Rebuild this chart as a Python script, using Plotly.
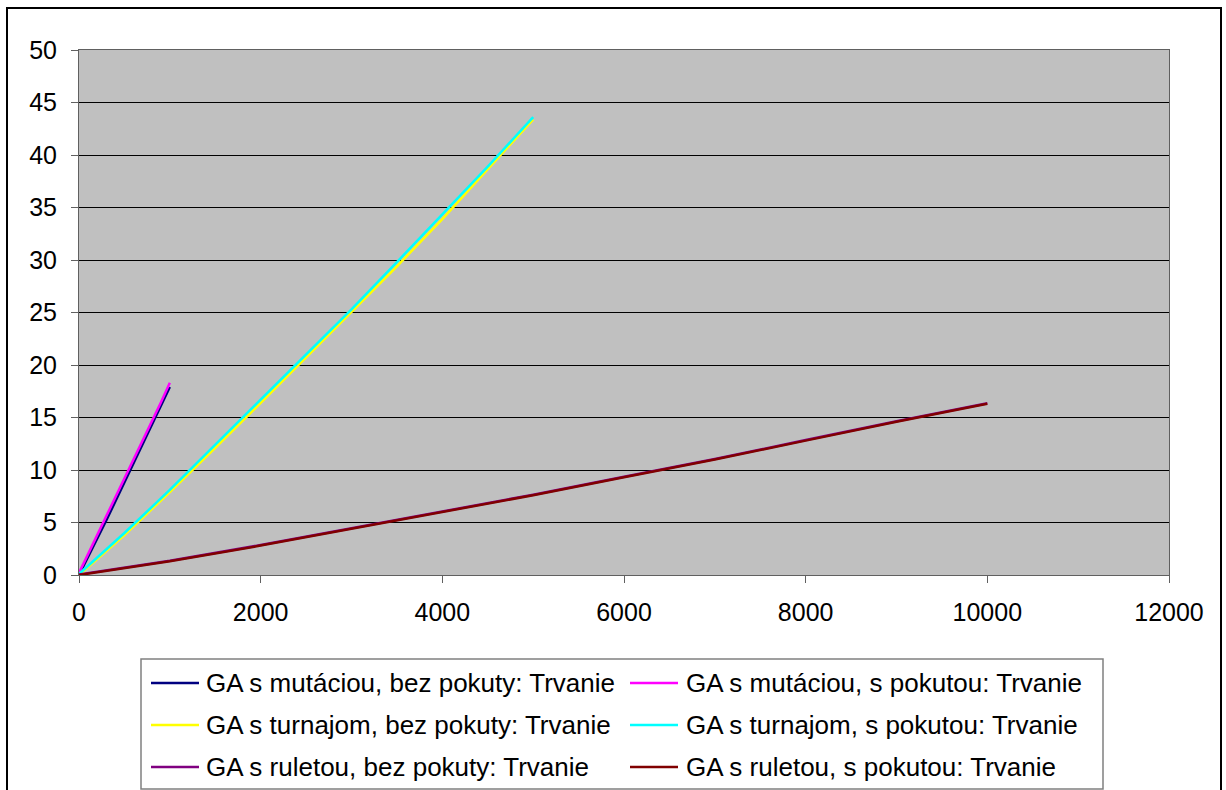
import plotly.graph_objects as go

# ---------------- data ----------------
mut_x = [0, 100, 200, 300, 400, 500, 600, 700, 800, 900, 1000]
mut_bez = [0.0, 1.7, 3.4, 5.2, 7.0, 8.8, 10.6, 12.4, 14.2, 16.0, 17.9]
mut_s = [0.2, 2.0, 3.7, 5.5, 7.3, 9.1, 10.9, 12.7, 14.5, 16.4, 18.3]

tur_x = [0, 500, 1000, 1500, 2000, 2500, 3000, 3500, 4000, 4500, 5000]
tur_bez = [0.0, 3.8, 7.9, 12.1, 16.4, 20.7, 25.0, 29.4, 33.9, 38.6, 43.4]
tur_s = [0.1, 4.0, 8.1, 12.4, 16.7, 21.0, 25.3, 29.8, 34.3, 38.9, 43.6]

rul_x = [0, 1000, 2000, 3000, 4000, 5000, 6000, 7000, 8000, 9000, 10000]
rul_bez = [0.05, 1.35, 2.85, 4.45, 6.05, 7.65, 9.35, 11.05, 12.85, 14.65, 16.35]
rul_s = [0.0, 1.3, 2.8, 4.4, 6.0, 7.6, 9.3, 11.0, 12.8, 14.6, 16.3]

series_names = [
    "GA s mutáciou, bez pokuty: Trvanie",
    "GA s mutáciou, s pokutou: Trvanie",
    "GA s turnajom, bez pokuty: Trvanie",
    "GA s turnajom, s pokutou: Trvanie",
    "GA s ruletou, bez pokuty: Trvanie",
    "GA s ruletou, s pokutou: Trvanie",
]
series_colors = ["#000080", "#FF00FF", "#FFFF00", "#00FFFF", "#800080", "#800000"]

x_ticks = [0, 2000, 4000, 6000, 8000, 10000, 12000]
y_ticks = [0, 5, 10, 15, 20, 25, 30, 35, 40, 45, 50]

series_x = [mut_x, mut_x, tur_x, tur_x, rul_x, rul_x]
series_y = [mut_bez, mut_s, tur_bez, tur_s, rul_bez, rul_s]

# ---------------- layout geometry (pixels) ----------------
W, H = 1226, 790
PL, PR, PT, PB = 79, 1169, 50, 575
FONT = "Liberation Sans, Arial, sans-serif"
FS = 25
LEG_FS = 26


def px_to_paper_x(px):
    return (px - PL) / (PR - PL)


def px_to_paper_y(py):
    return (PB - py) / (PB - PT)


fig = go.Figure()
for xs, ys, name, color in zip(series_x, series_y, series_names, series_colors):
    fig.add_trace(go.Scatter(
        x=xs, y=ys, mode="lines", name=name,
        line=dict(color=color, width=2.5),
        showlegend=False,
    ))

shapes = []
annotations = []

# outer chart frame
shapes.append(dict(
    type="rect", xref="paper", yref="paper",
    x0=px_to_paper_x(7), x1=px_to_paper_x(1221),
    y0=px_to_paper_y(830), y1=px_to_paper_y(8),
    line=dict(color="#000000", width=2), fillcolor="rgba(0,0,0,0)",
    layer="below",
))

# legend box
shapes.append(dict(
    type="rect", xref="paper", yref="paper",
    x0=px_to_paper_x(141), x1=px_to_paper_x(1103),
    y0=px_to_paper_y(789), y1=px_to_paper_y(659),
    line=dict(color="#808080", width=1.5), fillcolor="#FFFFFF",
    layer="below",
))

col_line_x = [151, 630]
line_len = 48
col_text_x = [204, 684]
row_y = [683, 725, 767]
for i, (name, color) in enumerate(zip(series_names, series_colors)):
    r, c = divmod(i, 2)
    yy = px_to_paper_y(row_y[r])
    shapes.append(dict(
        type="line", xref="paper", yref="paper",
        x0=px_to_paper_x(col_line_x[c]), x1=px_to_paper_x(col_line_x[c] + line_len),
        y0=yy, y1=yy, line=dict(color=color, width=2.5),
    ))
    annotations.append(dict(
        xref="paper", yref="paper", x=px_to_paper_x(col_text_x[c]), y=yy,
        xanchor="left", yanchor="middle", text=name, showarrow=False,
        font=dict(family=FONT, size=LEG_FS, color="#000000"),
    ))

fig.update_layout(
    width=W, height=H,
    margin=dict(l=PL, r=W - PR, t=PT, b=H - PB, pad=0),
    paper_bgcolor="#FFFFFF",
    plot_bgcolor="#C0C0C0",
    font=dict(family=FONT, size=FS, color="#000000"),
    showlegend=False,
    shapes=shapes,
    annotations=annotations,
    xaxis=dict(
        range=[0, 12000], tickvals=x_ticks, ticktext=[str(v) for v in x_ticks],
        showgrid=False, zeroline=False,
        showline=True, linecolor="#606060", linewidth=1, mirror=True,
        ticks="outside", ticklen=7, tickcolor="#606060", tickwidth=1,
        ticklabelstandoff=8,
        tickfont=dict(family=FONT, size=FS, color="#000000"),
    ),
    yaxis=dict(
        range=[0, 50], tickvals=y_ticks, ticktext=[str(v) for v in y_ticks],
        showgrid=True, gridcolor="#000000", gridwidth=1, zeroline=False,
        showline=True, linecolor="#606060", linewidth=1, mirror=True,
        ticks="outside", ticklen=7, tickcolor="#606060", tickwidth=1,
        ticklabelstandoff=9,
        tickfont=dict(family=FONT, size=FS, color="#000000"),
    ),
)

fig.write_html("out.html")
